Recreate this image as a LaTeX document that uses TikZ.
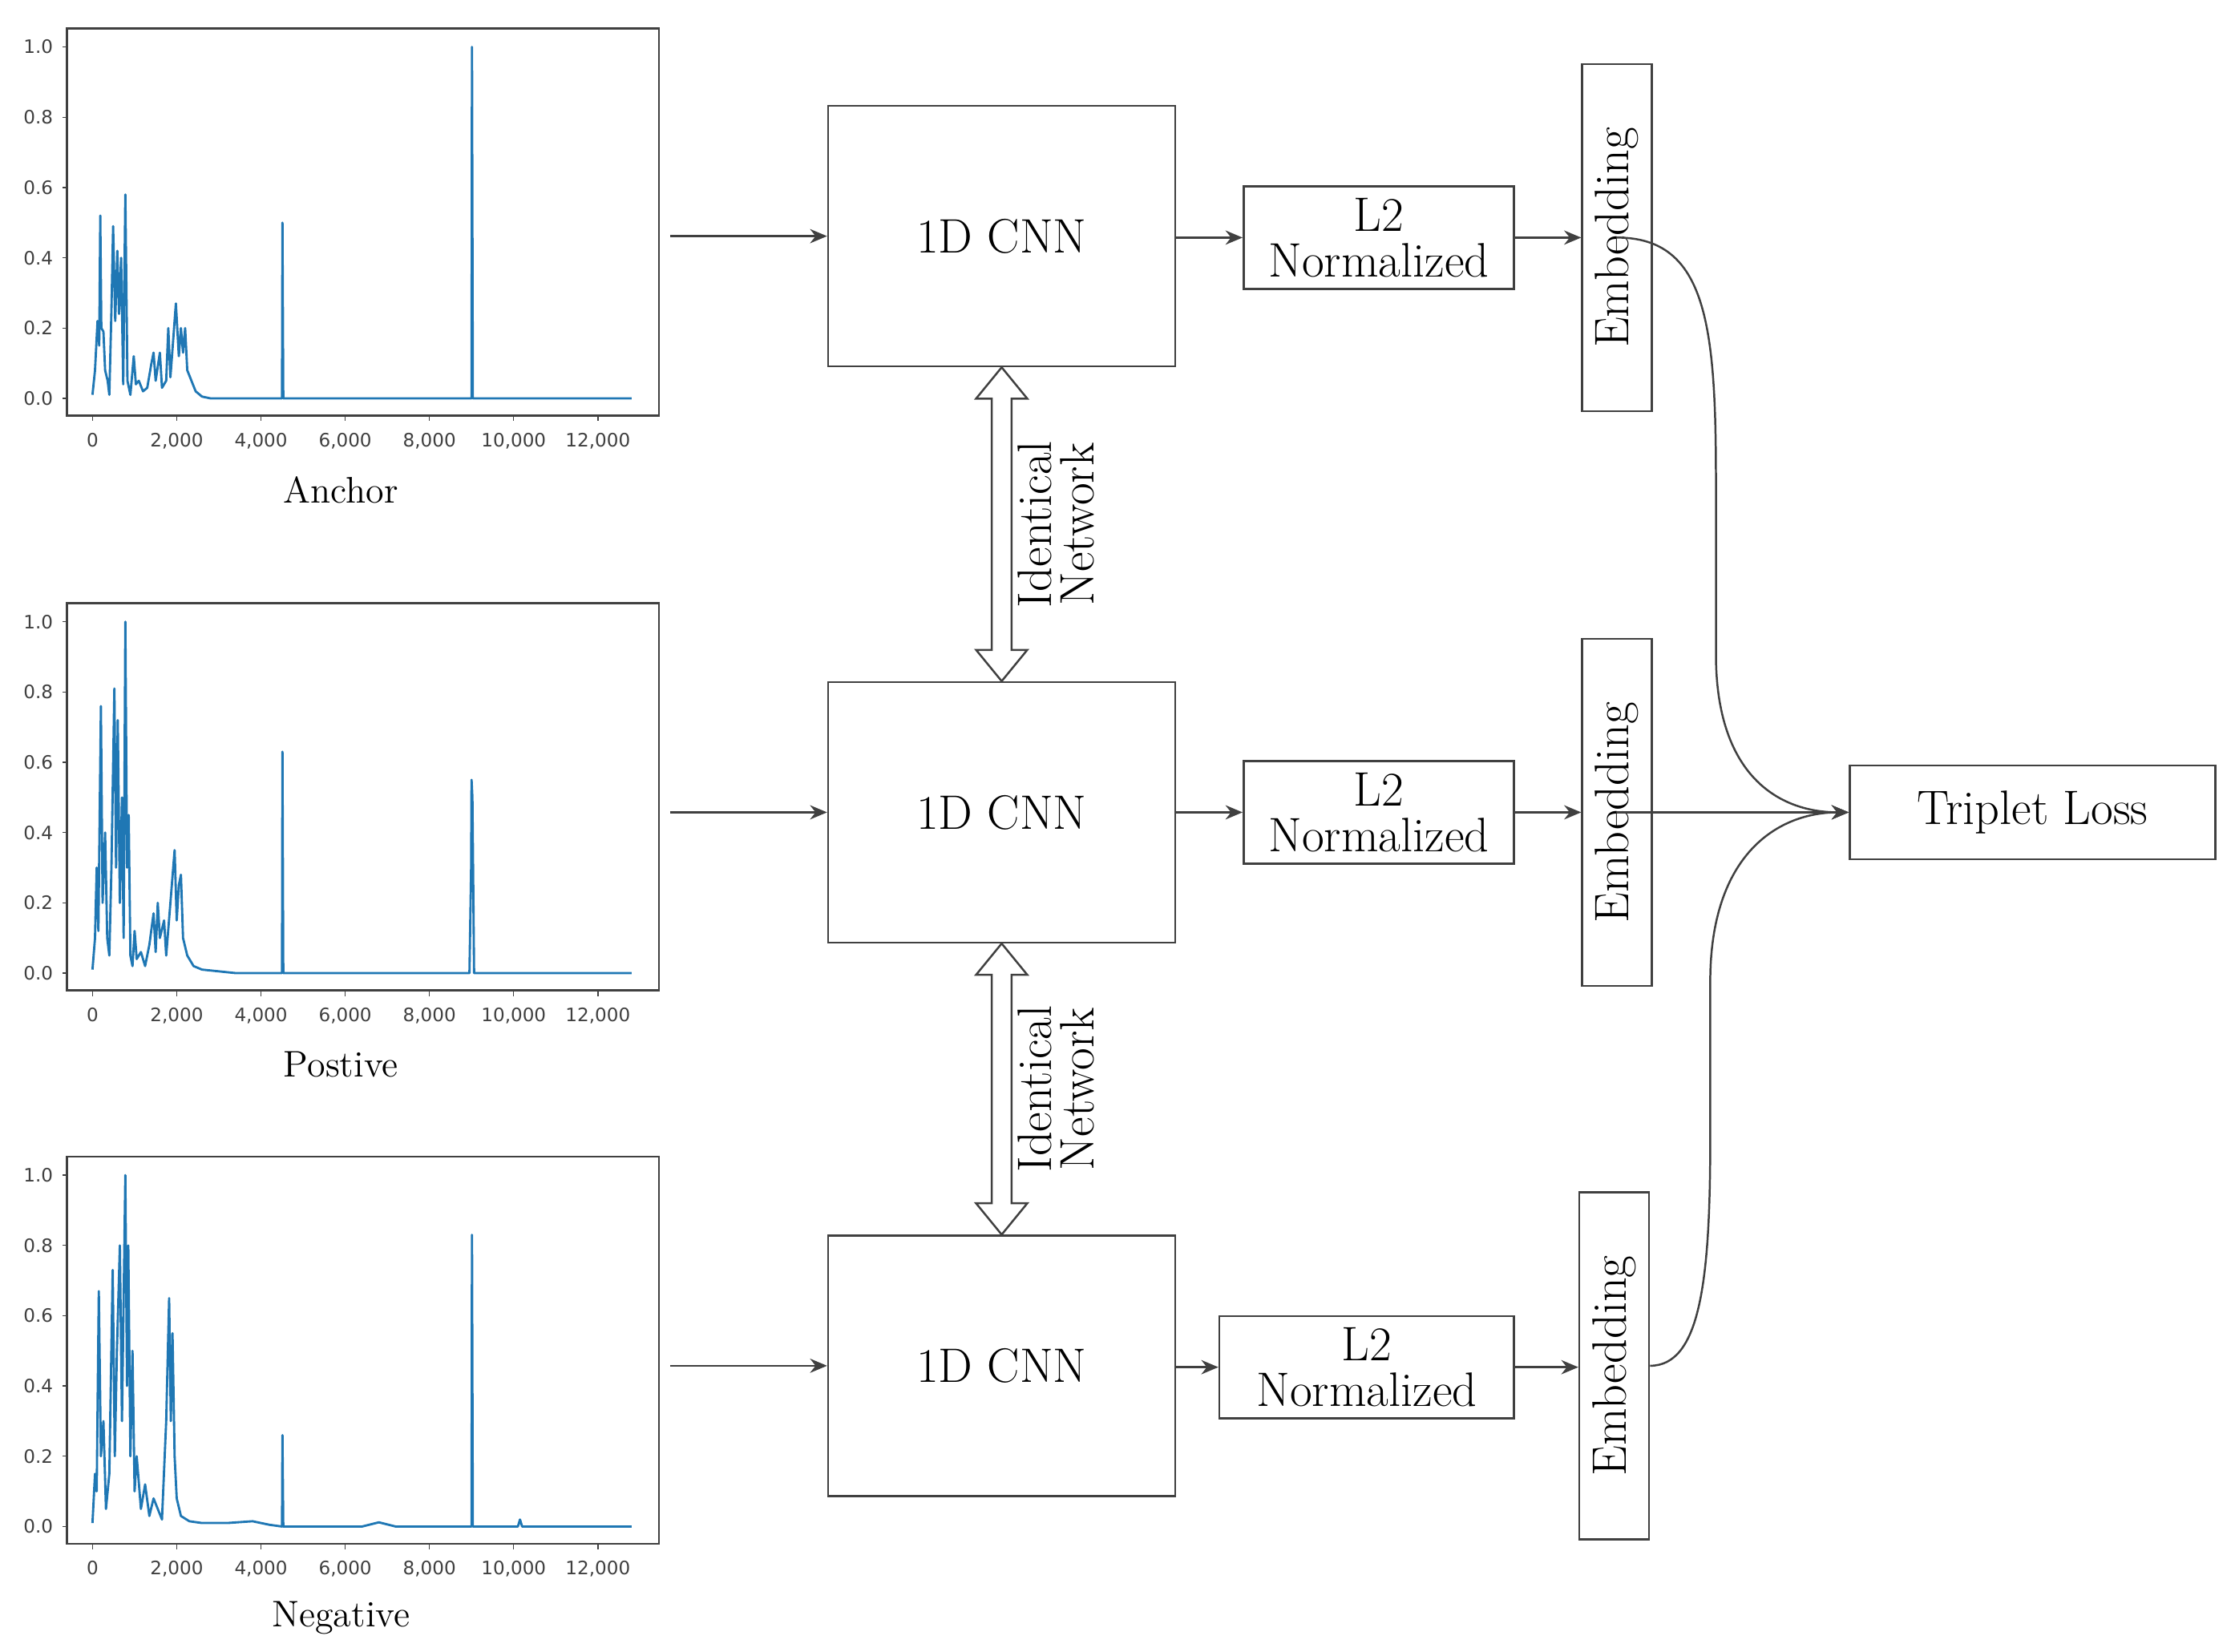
\documentclass[tikz,border=0pt]{standalone}
\usepackage{fontspec}
\newfontfamily\ticksans{DejaVu Sans}
\usetikzlibrary{arrows.meta,calc}
\definecolor{spec}{RGB}{31,119,180}
\definecolor{ln}{RGB}{64,64,64}
\begin{document}
\begin{tikzpicture}[x=0.5pt,y=-0.5pt,
  box/.style={draw=ln,line width=0.7pt,inner sep=0pt,font=\fontsize{17}{19}\selectfont,align=center},
  arr/.style={draw=ln,line width=0.7pt,-{Stealth[length=6pt,width=5pt]}},
  tl/.style={font=\ticksans\fontsize{6.5}{7}\selectfont,text=black!75},
  plotcap/.style={font=\fontsize{13}{15}\selectfont},
  spl/.style={spec,line width=0.8pt,line join=round}]
\useasboundingbox (0,0) rectangle (1568,1161);

% ---------- spectrum plots ----------
\newcommand{\specaxes}[1]{%
  \draw[black!75,line width=0.7pt] (-608,1.053) rectangle (13446,-0.0486);
  \foreach \v in {0.0,0.2,0.4,0.6,0.8,1.0}{
    \draw[black!75] (-608,\v) -- (-720,\v);
    \node[tl,anchor=east] at (-700,\v) {\v};}
  \foreach \t/\l in {0/0,2000/{2,000},4000/{4,000},6000/{6,000},8000/{8,000},10000/{10,000},12000/{12,000}}{
    \draw[black!75] (\t,-0.0486) -- (\t,-0.065);
    \node[tl,anchor=north] at (\t,-0.07) {\l};}
  \node[plotcap] at (5900,-0.26) {#1};}

\begin{scope}[shift={(65,280)},x=0.0148pt,y=123.5pt]
  \specaxes{Anchor}
  \draw[spl] (0,.01)--(60,.08)--(120,.22)--(160,.15)--(185,.52)--(210,.2)--(260,.19)--(300,.08)--(360,.05)--(400,.01)--(450,.25)--(490,.49)--(540,.22)--(590,.42)--(630,.24)--(680,.4)--(730,.04)--(780,.58)--(830,.05)--(900,.01)--(980,.12)--(1030,.04)--(1100,.05)--(1200,.02)--(1300,.03)--(1400,.1)--(1450,.13)--(1500,.05)--(1600,.13)--(1650,.03)--(1750,.05)--(1800,.2)--(1850,.06)--(1900,.14)--(1980,.27)--(2050,.12)--(2100,.2)--(2150,.13)--(2200,.2)--(2250,.08)--(2350,.05)--(2450,.02)--(2600,.005)--(2800,0)--(4500,0)--(4510,.5)--(4530,0)--(9000,0)--(9010,1)--(9030,0)--(12800,0);
\end{scope}

\begin{scope}[shift={(65,684)},x=0.0148pt,y=123.5pt]
  \specaxes{Postive}
  \draw[spl] (0,.01)--(60,.1)--(100,.3)--(140,.12)--(200,.76)--(240,.2)--(300,.4)--(350,.1)--(400,.05)--(450,.3)--(520,.81)--(560,.3)--(600,.72)--(650,.2)--(700,.5)--(740,.1)--(780,1.0)--(820,.3)--(860,.45)--(900,.05)--(950,.02)--(1000,.12)--(1050,.04)--(1150,.06)--(1250,.02)--(1350,.08)--(1450,.17)--(1500,.06)--(1550,.2)--(1600,.1)--(1700,.15)--(1750,.05)--(1850,.2)--(1950,.35)--(2000,.15)--(2050,.25)--(2100,.28)--(2150,.1)--(2250,.05)--(2400,.02)--(2600,.01)--(3000,.005)--(3400,0)--(4500,0)--(4510,.63)--(4530,0)--(8950,0)--(8990,.3)--(9000,.55)--(9020,.5)--(9060,0)--(12800,0);
\end{scope}

\begin{scope}[shift={(65,1073)},x=0.0148pt,y=123.5pt]
  \specaxes{Negative}
  \draw[spl] (0,.01)--(60,.15)--(100,.1)--(150,.67)--(200,.2)--(260,.3)--(320,.05)--(400,.15)--(480,.73)--(530,.2)--(580,.5)--(650,.8)--(700,.3)--(780,1.0)--(820,.4)--(850,.8)--(900,.2)--(950,.5)--(1000,.1)--(1050,.2)--(1150,.05)--(1250,.12)--(1350,.03)--(1450,.08)--(1550,.05)--(1650,.02)--(1750,.3)--(1820,.65)--(1860,.3)--(1900,.55)--(1950,.2)--(2000,.08)--(2100,.03)--(2300,.015)--(2600,.01)--(3200,.01)--(3800,.015)--(4200,.005)--(4500,0)--(4510,.26)--(4530,0)--(6400,0)--(6800,.012)--(7200,0)--(9000,0)--(9010,.83)--(9030,0)--(10100,0)--(10150,.02)--(10200,0)--(12800,0);
\end{scope}

% ---------- network ----------
\node[box,minimum width=122pt,minimum height=91.5pt] (c1) at (704,166) {1D CNN};
\node[box,minimum width=122pt,minimum height=91.5pt] (c2) at (704,571) {1D CNN};
\node[box,minimum width=122pt,minimum height=91.5pt] (c3) at (704,960) {1D CNN};
\node[box,minimum width=95pt,minimum height=36pt] (n1) at (969,167) {L2\\[-3pt]Normalized};
\node[box,minimum width=95pt,minimum height=36pt] (n2) at (969,571) {L2\\[-3pt]Normalized};
\node[box,minimum width=103.5pt,minimum height=36pt] (n3) at (960.5,961) {L2\\[-3pt]Normalized};
\node[box,minimum width=24.5pt,minimum height=122pt] (e1) at (1136.5,167) {};
\node[box,minimum width=24.5pt,minimum height=122pt] (e2) at (1136.5,571) {};
\node[box,minimum width=24.5pt,minimum height=122pt] (e3) at (1134.5,960) {};
\foreach \e in {e1,e2,e3}{\node[box,draw=none,rotate=90] at (\e) {Embedding};}
\node[box,minimum width=128.5pt,minimum height=33pt] (tl) at (1428.5,571) {Triplet Loss};

\coordinate (i1) at (471,166);
\coordinate (i2) at (471,571);
\coordinate (i3) at (471,960);
\draw[arr] (i1) -- (c1);
\draw[arr] (i2) -- (c2);
\draw[arr] (i3) -- (c3);
\draw[arr] (c1.east |- n1) -- (n1);
\draw[arr] (c2.east |- n2) -- (n2);
\draw[arr] (c3.east |- n3) -- (n3);
\draw[arr] (n1) -- (e1.west |- n1);
\draw[arr] (n2) -- (e2.west |- n2);
\draw[arr] (n3) -- (e3.west |- n3);

\draw[arr] (e1.center) .. controls (1200,167) and (1206,230) .. (1206,340) -- (1206,460) .. controls (1206,545) and (1250,571) .. (tl.west);
\draw[arr] (e2.center) -- (tl.west);
\draw[arr] (e3.east) .. controls (1195,960) and (1202,900) .. (1202,800) -- (1202,690) .. controls (1202,600) and (1250,571) .. (tl.west);

% hollow double arrows
\foreach \a/\b in {c1/c2,c2/c3}{
  \draw[ln,line width=0.7pt,fill=white] (\a.south) -- ($(\a.south)+(18,22)$) -- ($(\a.south)+(7,22)$) -- ($(\b.north)+(7,-22)$) -- ($(\b.north)+(18,-22)$) -- (\b.north) -- ($(\b.north)+(-18,-22)$) -- ($(\b.north)+(-7,-22)$) -- ($(\a.south)+(-7,22)$) -- ($(\a.south)+(-18,22)$) -- cycle;
  \node[box,draw=none,rotate=90,align=center] at ($(\a.south)!0.5!(\b.north)+(38,0)$) {Identical\\[-4pt]Network};}
\end{tikzpicture}
\end{document}
